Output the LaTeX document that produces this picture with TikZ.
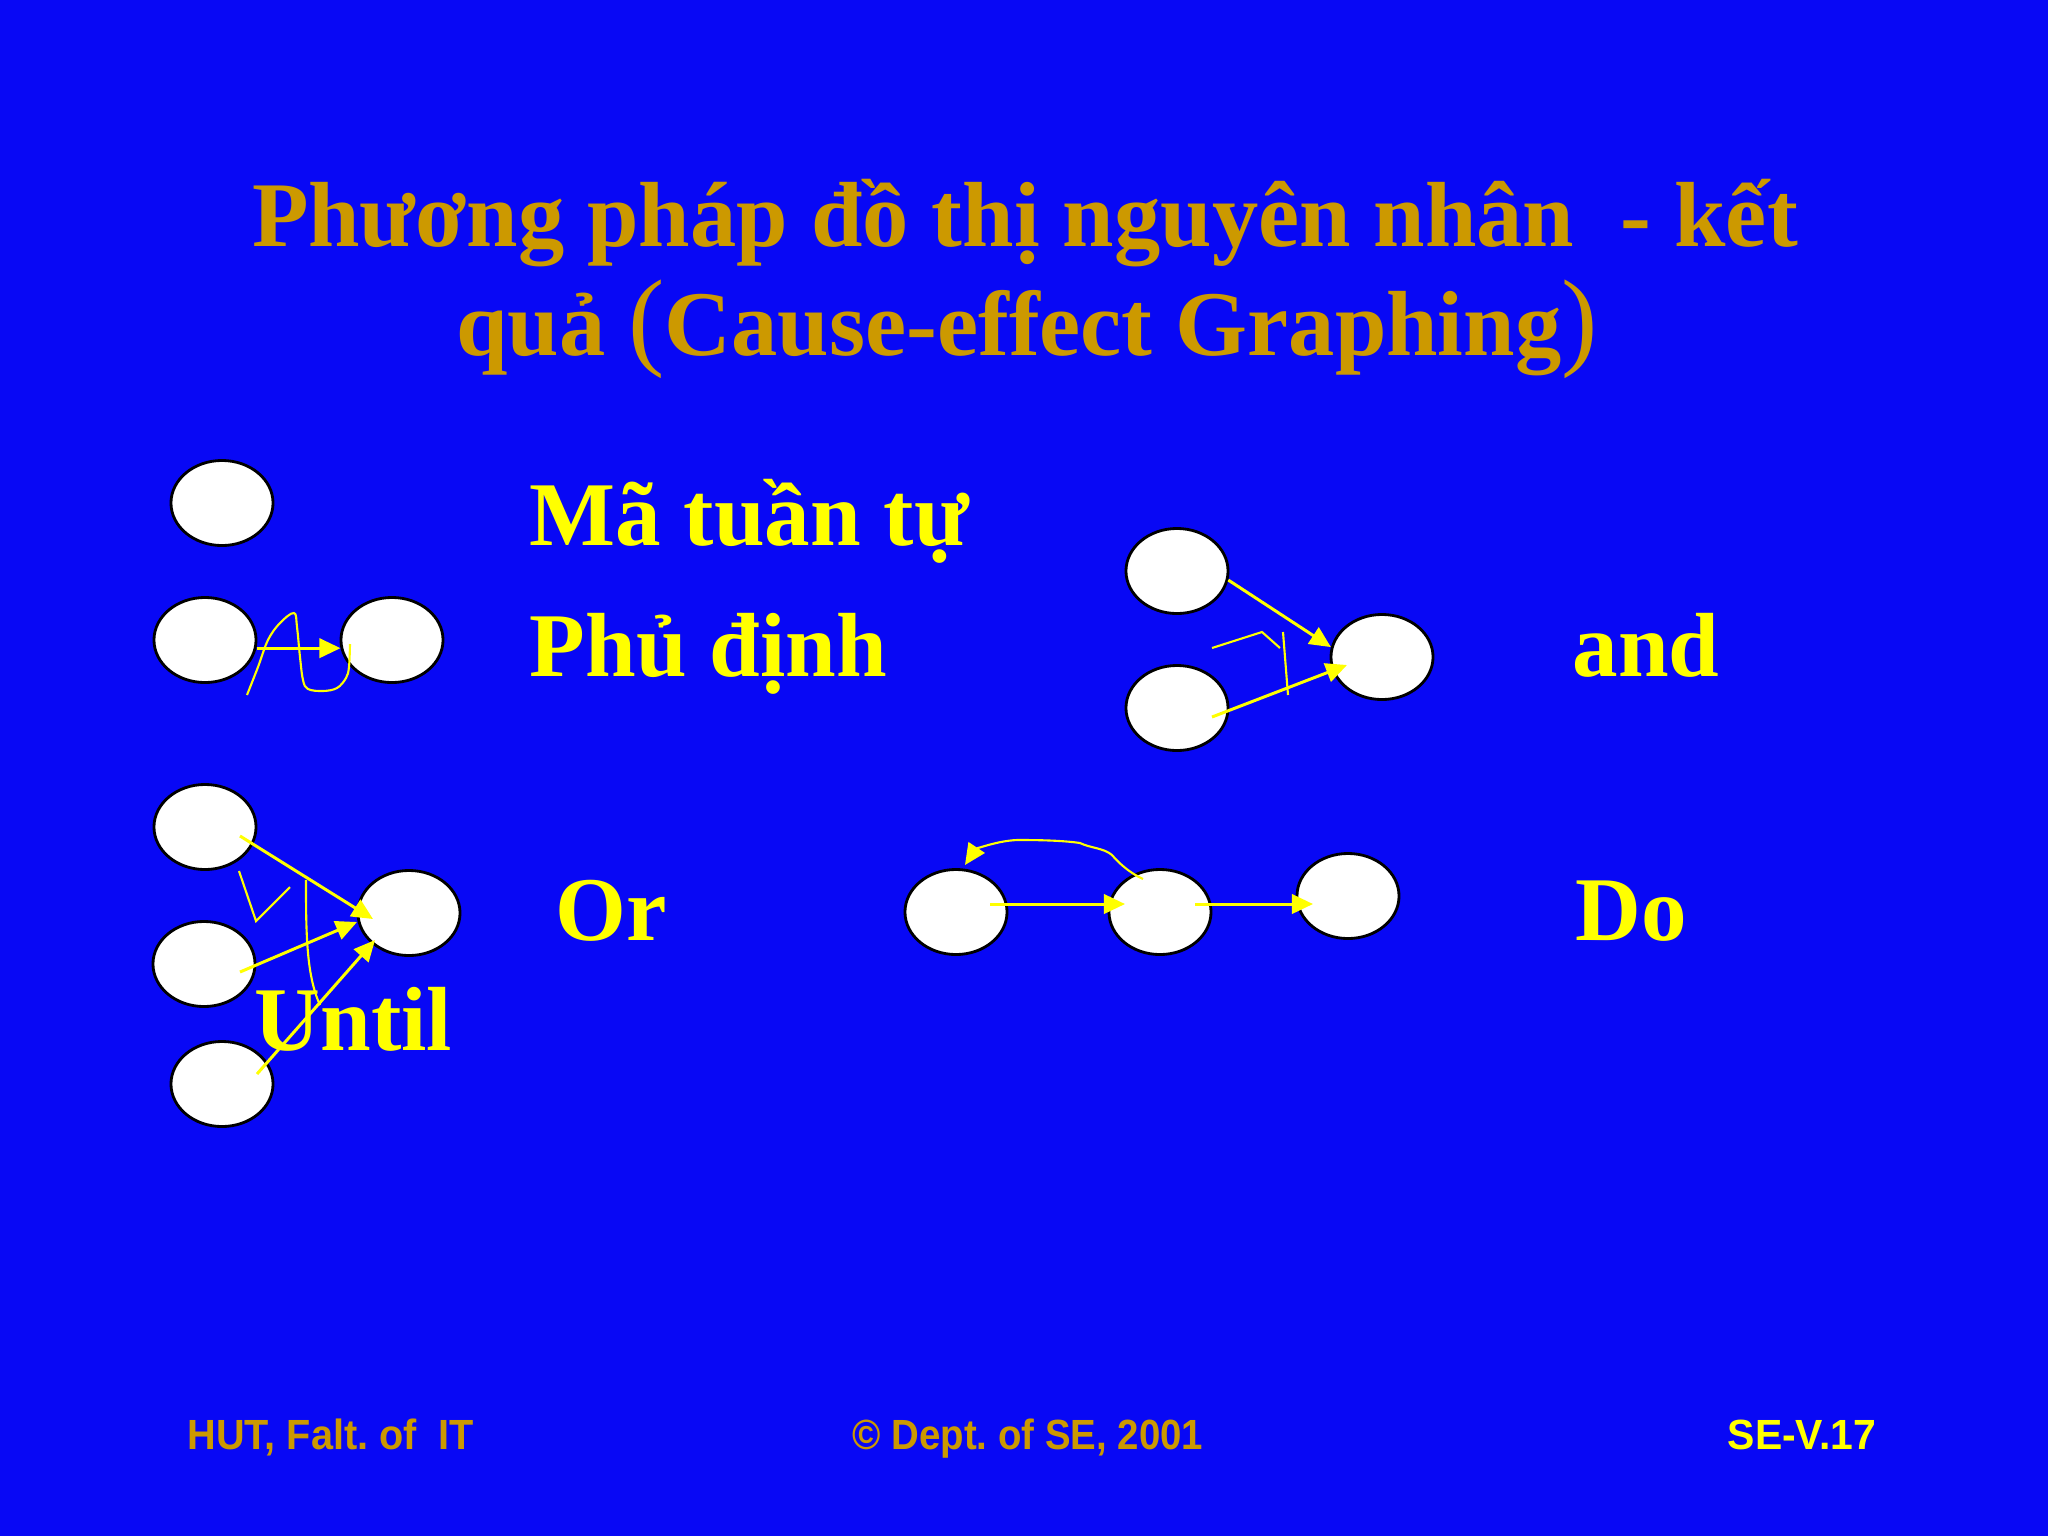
\documentclass[tikz,border=0pt]{standalone}
\usepackage{fontspec}
\setmainfont{Liberation Serif}
\setsansfont{Liberation Sans}
\usetikzlibrary{shapes.geometric,arrows.meta,calc}
\definecolor{bg}{RGB}{8,8,245}
\definecolor{gold}{RGB}{204,153,0}
\definecolor{yel}{RGB}{255,255,0}
\frenchspacing
\begin{document}
\begin{tikzpicture}[x=0.01cm,y=-0.01cm,
  bubble/.style={ellipse,draw=black,fill=white,line width=0.8pt,minimum width=1.02cm,minimum height=0.85cm,inner sep=0pt},
  arr/.style={draw=yel,line width=0.85pt,-{Triangle[length=6pt,width=5.5pt]}},
  stroke/.style={draw=yel,line width=0.6pt},
  lbl/.style={text=yel,font=\bfseries\fontsize{25.9}{30}\selectfont,inner sep=0pt,anchor=base west},
  ttl/.style={text=gold,font=\bfseries\fontsize{26.3}{30}\selectfont,inner sep=0pt,anchor=base},
  foot/.style={font=\sffamily\bfseries\fontsize{12}{14}\selectfont,inner sep=0pt,anchor=base west}]
\fill[bg] (0,0) rectangle (2048,1536);
\useasboundingbox (0,0) rectangle (2048,1536);
% title
\node[ttl] (t1) at (1025,246) {Phương pháp đồ thị nguyên nhân\ \ - kết};
\node[ttl] (t2) at (1027,355) {quả {\mdseries\fontsize{31}{36}\selectfont(}Cause-effect Graphing{\mdseries\fontsize{31}{36}\selectfont)}};
% labels
\node[lbl] (l1) at (529,545) {Mã tuần tự};
\node[lbl] (l2) at (529,676) {Phủ định};
\node[lbl] (l3) at (1572,676) {and};
\node[lbl] (l4) at (555,940) {Or};
\node[lbl] (l5) at (1575,940) {Do};
\node[lbl] (l6) at (254,1050) {Until};
% bubbles
\node[bubble] (s0) at (222,503) {};
\node[bubble] (n1) at (205,640) {};
\node[bubble] (n2) at (392,640) {};
\node[bubble] (a1) at (1177,571) {};
\node[bubble] (a2) at (1177,708) {};
\node[bubble] (a3) at (1382,657) {};
\node[bubble] (o1) at (205,827) {};
\node[bubble] (o2) at (204,964) {};
\node[bubble] (o3) at (222,1084) {};
\node[bubble] (o4) at (409,913) {};
\node[bubble] (d1) at (956,912) {};
\node[bubble] (d2) at (1160,912) {};
\node[bubble] (d3) at (1348,896) {};
% negation
\draw[arr] (n1.-9) -- (n2.189);
\draw[stroke] plot[smooth,tension=0.6] coordinates {(247,695) (258,667) (268,640) (280,623) (294,613) (297,627) (300,657) (303,680) (308,689) (323,691) (337,688) (346,678) (349,667) (350,644)};
% and
\draw[arr] (a1.-10) -- (a3.169);
\draw[arr] ($(a2)+(35,9)$) -- ($(a3)+(-35,8)$);
\draw[stroke] (1212,648) -- (1262,632) -- (1280,648);
\draw[stroke] (1283,632) -- (1288,695);
% or
\draw[arr] ($(o1)+(35,9)$) -- ($(o4)+(-36,6)$);
\draw[arr] ($(o2)+(36,8)$) -- ($(o4)+(-52,9)$);
\draw[arr] ($(o3)+(35,-10)$) -- ($(o4)+(-34,27)$);
\draw[stroke] (239,871) -- (256,921) -- (290,887);
\draw[stroke] (306,880) .. controls (306,930) and (306,975) .. (320,1005);
% do
\draw[arr] ($(d1)+(34,-8)$) -- ($(d2)+(-35,-8)$);
\draw[arr] ($(d2)+(35,-8)$) -- ($(d3)+(-35,8)$);
\draw[arr,line width=0.6pt] ($(d2)+(-17,-33)$) .. controls (1128,872) and (1118,862) .. (1112,855) .. controls (1104,848) and (1090,848) .. (1080,843) .. controls (1060,840) and (1030,840) .. (1017,840) .. controls (995,841) and (975,850) .. ($(d1)+(9,-47)$);
% footer
\node[foot,text=gold] (f1) at (187,1449) {\scalebox{0.94}[1]{HUT, Falt. of\ \ IT}};
\node[foot,text=gold] (f2) at (852,1449) {\scalebox{0.91}[1]{© Dept. of SE, 2001}};
\node[foot,text=yel] (f3) at (1727,1449) {\scalebox{0.97}[1]{SE-V.17}};
\end{tikzpicture}
\end{document}
